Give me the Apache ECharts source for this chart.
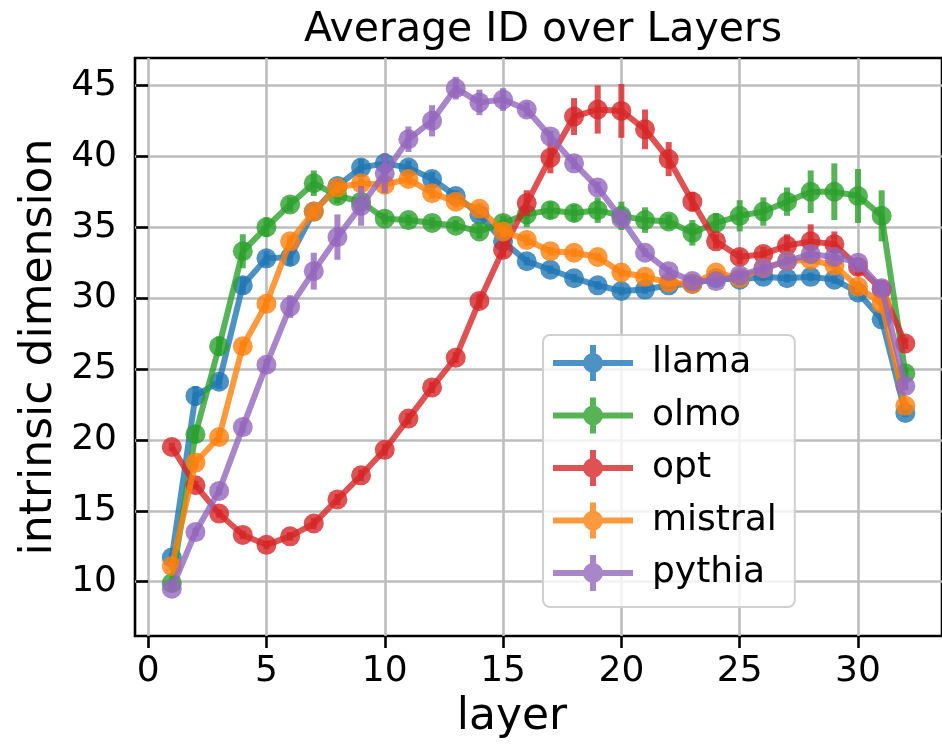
<!DOCTYPE html>
<html>
<head>
<meta charset="utf-8">
<script src="https://cdn.jsdelivr.net/npm/echarts@6/dist/echarts.min.js"></script>
<style>
  html, body { margin: 0; padding: 0; background: #fff; }
  #chart { width: 942px; height: 746px; }
</style>
</head>
<body>
<div id="chart"></div>
<script>
// Layer index on the x axis
const layers = [1, 2, 3, 4, 5, 6, 7, 8, 9, 10, 11, 12, 13, 14, 15, 16,
                17, 18, 19, 20, 21, 22, 23, 24, 25, 26, 27, 28, 29, 30, 31, 32];

// Tick positions on each axis
const xTicks = [0, 5, 10, 15, 20, 25, 30];
const yTicks = [10, 15, 20, 25, 30, 35, 40, 45];

// Average intrinsic dimension per layer, one array per model
const llama   = [11.7, 23.1, 24.1, 30.9, 32.8, 32.9, 36.1, 37.9, 39.2, 39.5, 39.2, 38.4, 37.2, 35.9, 34.0, 32.6,
                 32.0, 31.4, 30.9, 30.5, 30.6, 30.9, 31.0, 31.4, 31.3, 31.5, 31.4, 31.5, 31.3, 30.4, 28.5, 21.9];
const olmo    = [9.9, 20.4, 26.6, 33.3, 35.0, 36.6, 38.1, 37.2, 36.8, 35.6, 35.5, 35.3, 35.1, 34.7, 35.3, 35.9,
                 36.2, 36.0, 36.2, 35.8, 35.5, 35.4, 34.6, 35.3, 35.8, 36.1, 36.8, 37.5, 37.5, 37.2, 35.8, 24.7];
const opt     = [19.5, 16.8, 14.8, 13.3, 12.6, 13.2, 14.1, 15.8, 17.5, 19.3, 21.5, 23.7, 25.8, 29.8, 33.4, 36.7,
                 39.9, 42.8, 43.3, 43.2, 41.9, 39.8, 36.8, 34.0, 32.9, 33.1, 33.7, 34.0, 33.8, 32.2, 30.6, 26.8];
const mistral = [11.1, 18.4, 20.2, 26.6, 29.6, 34.0, 36.1, 37.8, 38.1, 38.0, 38.4, 37.4, 36.8, 36.3, 34.7, 34.1,
                 33.3, 33.2, 32.9, 31.8, 31.5, 31.1, 31.0, 31.8, 31.4, 32.1, 32.6, 32.7, 32.3, 30.8, 29.6, 22.4];
const pythia  = [9.5, 13.5, 16.4, 20.9, 25.3, 29.4, 31.9, 34.3, 36.5, 38.8, 41.2, 42.5, 44.8, 43.8, 44.0, 43.3,
                 41.4, 39.5, 37.8, 35.6, 33.2, 31.9, 31.2, 31.2, 31.6, 32.1, 32.6, 33.1, 32.9, 32.5, 30.7, 23.8];

// Half-length of the error bar at each layer
const llamaErr   = [0.3, 0.7, 0.5, 0.6, 0.5, 0.6, 0.5, 0.5, 0.6, 0.7, 0.5, 0.5, 0.4, 0.4, 0.4, 0.3,
                    0.3, 0.3, 0.3, 0.3, 0.3, 0.3, 0.3, 0.3, 0.3, 0.3, 0.3, 0.3, 0.3, 0.3, 0.4, 0.3];
const olmoErr    = [0.3, 0.6, 0.7, 1.2, 0.7, 0.5, 0.9, 0.5, 0.4, 0.4, 0.4, 0.4, 0.4, 0.5, 0.5, 0.9,
                    0.6, 0.6, 0.9, 1.0, 0.9, 0.5, 0.9, 0.7, 1.1, 1.0, 1.0, 1.5, 2.0, 1.9, 1.8, 0.4];
const optErr     = [0.3, 0.3, 0.3, 0.3, 0.3, 0.3, 0.4, 0.4, 0.4, 0.4, 0.4, 0.4, 0.4, 0.5, 0.5, 0.9,
                    1.1, 1.3, 1.7, 1.9, 1.4, 1.2, 0.7, 0.5, 0.5, 0.5, 0.8, 1.2, 0.9, 0.6, 0.4, 0.4];
const mistralErr = [0.3, 0.4, 0.4, 0.4, 0.4, 0.4, 0.4, 0.4, 0.4, 0.4, 0.4, 0.4, 0.4, 0.4, 0.4, 0.4,
                    0.3, 0.3, 0.3, 0.3, 0.3, 0.3, 0.3, 0.3, 0.3, 0.3, 0.3, 0.3, 0.3, 0.4, 0.4, 0.3];
const pythiaErr  = [0.2, 0.3, 0.3, 0.4, 0.4, 0.8, 1.3, 1.6, 1.4, 1.4, 0.9, 1.1, 0.8, 0.9, 0.8, 0.5,
                    0.4, 0.4, 0.4, 0.3, 0.3, 0.3, 0.3, 0.3, 0.3, 0.3, 0.3, 0.3, 0.3, 0.3, 0.4, 0.3];

const models = [
  { name: 'llama',   values: llama,   errors: llamaErr,   color: '#1f77b4' },
  { name: 'olmo',    values: olmo,    errors: olmoErr,    color: '#2ca02c' },
  { name: 'opt',     values: opt,     errors: optErr,     color: '#d62728' },
  { name: 'mistral', values: mistral, errors: mistralErr, color: '#ff7f0e' },
  { name: 'pythia',  values: pythia,  errors: pythiaErr,  color: '#9467bd' }
];

const FONT = 'DejaVu Sans';
const ALPHA = 0.8;
const LINE_W = 6;

// Legend glyph: line segment, round marker and vertical error bar
const errorbarIcon = 'path://M0 15L80 15L80 21L0 21Z M37 0L43 0L43 36L37 36Z ' +
                     'M30 18A10 10 0 1 1 50 18A10 10 0 1 1 30 18Z';

const series = [];
models.forEach((m, i) => {
  const pts = layers.map((l, k) => [l, m.values[k]]);
  series.push({
    name: m.name,
    type: 'line',
    data: pts,
    z: 10 + i * 2,
    symbol: 'circle',
    symbolSize: 20,
    showAllSymbol: true,
    color: m.color,
    lineStyle: { width: LINE_W, color: m.color, opacity: ALPHA },
    itemStyle: { color: m.color, opacity: ALPHA },
    emphasis: { disabled: true },
    animation: false
  });
  series.push({
    name: m.name + ' error',
    type: 'custom',
    z: 11 + i * 2,
    data: layers.map((l, k) => [l, m.values[k], m.errors[k]]),
    encode: { x: 0, y: 1 },
    renderItem: (params, api) => {
      const x = api.value(0), y = api.value(1), e = api.value(2);
      const lo = api.coord([x, y - e]);
      const hi = api.coord([x, y + e]);
      return {
        type: 'line',
        shape: { x1: lo[0], y1: lo[1], x2: hi[0], y2: hi[1] },
        style: { stroke: m.color, lineWidth: LINE_W, opacity: ALPHA }
      };
    },
    animation: false,
    silent: true
  });
});

const chart = echarts.init(document.getElementById('chart'), null, { renderer: 'canvas' });

chart.setOption({
  backgroundColor: '#ffffff',
  animation: false,
  grid: {
    left: 135, top: 58, width: 816, height: 578,
    show: true, borderColor: '#000000', borderWidth: 2.6, backgroundColor: 'transparent'
  },
  xAxis: {
    type: 'value',
    min: -0.555, max: 33.55,
    splitNumber: 7,
    axisLine: { show: false },
    axisTick: { show: true, inside: false, length: 12, customValues: xTicks,
                lineStyle: { color: '#000', width: 2.6 } },
    axisLabel: { fontFamily: FONT, fontSize: 36, color: '#000', margin: 18, customValues: xTicks },
    splitLine: { show: true, lineStyle: { color: '#bdbdbd', width: 2.6 } }
  },
  yAxis: {
    type: 'value',
    min: 6.17, max: 46.93,
    splitNumber: 8,
    axisLine: { show: false },
    axisTick: { show: true, inside: false, length: 12, customValues: yTicks,
                lineStyle: { color: '#000', width: 2.6 } },
    axisLabel: { fontFamily: FONT, fontSize: 36, color: '#000', margin: 18, customValues: yTicks },
    splitLine: { show: true, lineStyle: { color: '#bdbdbd', width: 2.6 } }
  },
  legend: {
    orient: 'vertical',
    left: 543, top: 335,
    data: models.map(m => m.name),
    icon: errorbarIcon,
    itemWidth: 80, itemHeight: 36, itemGap: 16.5,
    selectedMode: false,
    padding: [10, 18, 16, 10],
    backgroundColor: 'rgba(255,255,255,0.8)',
    borderColor: '#d0d0d0', borderWidth: 2, borderRadius: 7,
    textStyle: { fontFamily: FONT, fontSize: 36, color: '#000', padding: [0, 0, 0, 14] },
    z: 50
  },
  graphic: [
    { type: 'text', x: 543, y: 30, z: 60,
      style: { text: 'Average ID over Layers', fontFamily: FONT, fontSize: 41, fill: '#000',
               textAlign: 'center', textVerticalAlign: 'middle' } },
    { type: 'text', x: 512, y: 718, z: 60,
      style: { text: 'layer', fontFamily: FONT, fontSize: 44, fill: '#000',
               textAlign: 'center', textVerticalAlign: 'middle' } },
    { type: 'text', x: 40, y: 347, rotation: Math.PI / 2, z: 60,
      style: { text: 'intrinsic dimension', fontFamily: FONT, fontSize: 44, fill: '#000',
               textAlign: 'center', textVerticalAlign: 'middle' } }
  ],
  series: series
});
</script>
</body>
</html>
